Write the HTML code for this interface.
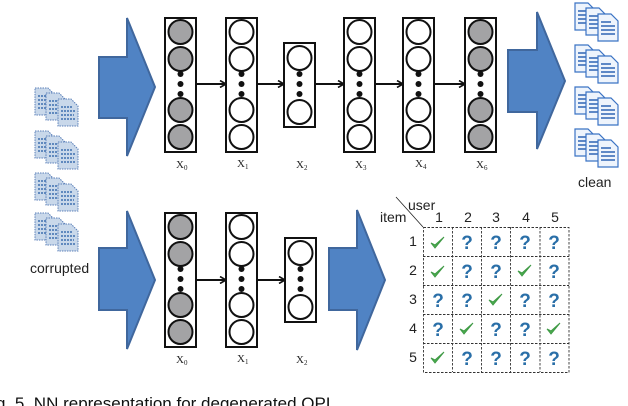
<!DOCTYPE html>
<html><head><meta charset="utf-8"><style>
html,body{margin:0;padding:0;background:#fff;width:628px;height:406px;overflow:hidden;position:relative}
svg{position:absolute;left:0;top:0}
.cap{position:absolute;left:-4px;top:395px;font:17px/17px "Liberation Sans",sans-serif;color:#111;white-space:nowrap}
</style></head><body>
<svg width="628" height="406" viewBox="0 0 628 406" xmlns="http://www.w3.org/2000/svg">
<defs>
<marker id="ah" markerWidth="8" markerHeight="8" refX="7" refY="4" orient="auto" markerUnits="userSpaceOnUse"><path d="M1,0.5 L7,4 L1,7.5" fill="none" stroke="#111" stroke-width="1.6"/></marker>
<g id="cpage"><path d="M0,0 h13 l7,7 v20 h-20z" fill="#c9d8ea" stroke="#5a7fb8" stroke-width="1" stroke-dasharray="1.5 1"/><path d="M3,8 h12 M3,12 h14 M3,16 h13 M3,20 h14" stroke="#3d6fb0" stroke-width="1.6" stroke-dasharray="2 1"/></g>
<g id="cg"><use href="#cpage" x="0" y="0"/><use href="#cpage" x="11" y="5"/><use href="#cpage" x="23" y="11"/></g>
<g id="page"><path d="M0,0 h13 l7,7 v20 h-20z" fill="#eef4fc" stroke="#3b73c4" stroke-width="1.2"/><path d="M3,8 h10 M3,12 h14 M3,16 h14 M3,20 h14" stroke="#2f64b3" stroke-width="1.6"/></g>
<g id="pg"><use href="#page" x="0" y="0"/><use href="#page" x="11" y="5"/><use href="#page" x="23" y="11"/></g>
<g id="L4"><rect x="0" y="0" width="31" height="134" fill="#fff" stroke="#111" stroke-width="2"/>
<circle cx="15.5" cy="14" r="12" stroke="#111" stroke-width="2"/><circle cx="15.5" cy="41" r="12" stroke="#111" stroke-width="2"/>
<circle cx="15.5" cy="92" r="12" stroke="#111" stroke-width="2"/><circle cx="15.5" cy="119" r="12" stroke="#111" stroke-width="2"/>
<circle cx="15.5" cy="56" r="3" fill="#111"/><circle cx="15.5" cy="66" r="3" fill="#111"/><circle cx="15.5" cy="76" r="3" fill="#111"/></g>
<g id="L2"><rect x="0" y="0" width="31" height="84" fill="#fff" stroke="#111" stroke-width="2"/>
<circle cx="15.5" cy="15" r="12" fill="#fff" stroke="#111" stroke-width="2"/><circle cx="15.5" cy="69" r="12" fill="#fff" stroke="#111" stroke-width="2"/>
<circle cx="15.5" cy="31" r="3" fill="#111"/><circle cx="15.5" cy="41" r="3" fill="#111"/><circle cx="15.5" cy="51" r="3" fill="#111"/></g>
<g id="ck"><path d="M-6,0 L-2,5 L7,-6 L-2,2 Z" fill="#4caf50" stroke="#3f9a45" stroke-width="1"/></g>
</defs>

<use href="#cg" x="35" y="88"/><use href="#cg" x="35" y="131"/><use href="#cg" x="35" y="173"/><use href="#cg" x="35" y="213"/>
<text x="30" y="273" font-family="Liberation Sans,sans-serif" font-size="14" fill="#222">corrupted</text>

<use href="#pg" x="575" y="3"/><use href="#pg" x="575" y="45"/><use href="#pg" x="575" y="87"/><use href="#pg" x="575" y="129"/>
<text x="578" y="187" font-family="Liberation Sans,sans-serif" font-size="14" fill="#222">clean</text>

<g fill="#5083c4" stroke="#40679d" stroke-width="2">
<path d="M99,57 H127 V18 L155,87 L127,156 V118 H99 Z"/>
<path d="M508,50 H537 V12 L565,81 L537,149 V112 H508 Z"/>
<path d="M99,248 H127 V211 L155,280 L127,349 V310 H99 Z"/>
<path d="M329,248 H357 V210 L385,280 L357,350 V310 H329 Z"/>
</g>

<g stroke="#111" stroke-width="2" marker-end="url(#ah)">
<line x1="196" y1="84" x2="226" y2="84"/><line x1="257" y1="84" x2="284" y2="84"/><line x1="315" y1="84" x2="344" y2="84"/>
<line x1="375" y1="84" x2="403" y2="84"/><line x1="434" y1="84" x2="465" y2="84"/>
<line x1="196" y1="280" x2="226" y2="280"/><line x1="257" y1="280" x2="285" y2="280"/>
</g>
<g fill="#a3a3a5"><use href="#L4" x="165" y="18"/><use href="#L4" x="465" y="18"/><use href="#L4" x="165" y="213"/></g>
<g fill="#fff"><use href="#L4" x="226" y="18"/><use href="#L4" x="344" y="18"/><use href="#L4" x="403" y="18"/><use href="#L4" x="226" y="213"/></g>
<use href="#L2" x="284" y="43"/><use href="#L2" x="285" y="238"/>

<g font-family="Liberation Serif,serif" font-size="11" fill="#222">
<text x="176" y="168">X<tspan font-size="7" dy="2">0</tspan></text>
<text x="237" y="167">X<tspan font-size="7" dy="2">1</tspan></text>
<text x="296" y="168">X<tspan font-size="7" dy="2">2</tspan></text>
<text x="355" y="168">X<tspan font-size="7" dy="2">3</tspan></text>
<text x="415" y="167">X<tspan font-size="7" dy="2">4</tspan></text>
<text x="476" y="168">X<tspan font-size="7" dy="2">6</tspan></text>
<text x="176" y="363">X<tspan font-size="7" dy="2">0</tspan></text>
<text x="237" y="362">X<tspan font-size="7" dy="2">1</tspan></text>
<text x="296" y="363">X<tspan font-size="7" dy="2">2</tspan></text>
</g>

<line x1="396" y1="197" x2="423" y2="227" stroke="#222" stroke-width="0.8"/>
<g font-family="Liberation Sans,sans-serif" font-size="14" fill="#222">
<text x="408" y="210">user</text><text x="380" y="222">item</text>
<g text-anchor="middle"><text x="439" y="222">1</text><text x="468" y="222">2</text><text x="496" y="222">3</text><text x="526" y="222">4</text><text x="555" y="222">5</text>
<text x="413" y="246">1</text><text x="413" y="275">2</text><text x="413" y="304">3</text><text x="413" y="333">4</text><text x="413" y="362">5</text></g>
</g>
<g stroke="#333" stroke-width="0.9" stroke-dasharray="2.5 1.5" fill="none">
<rect x="423.5" y="227.5" width="145.5" height="145"/>
<line x1="452.5" y1="227" x2="452.5" y2="372"/><line x1="481.5" y1="227" x2="481.5" y2="372"/><line x1="510.5" y1="227" x2="510.5" y2="372"/><line x1="540" y1="227" x2="540" y2="372"/>
<line x1="423" y1="256.5" x2="569" y2="256.5"/><line x1="423" y1="285.5" x2="569" y2="285.5"/><line x1="423" y1="314.5" x2="569" y2="314.5"/><line x1="423" y1="343.5" x2="569" y2="343.5"/>
</g>
<g font-family="Liberation Sans,sans-serif" font-weight="bold" font-size="19" fill="#2a6fa8" text-anchor="middle">
<text x="467" y="249">?</text><text x="496" y="249">?</text><text x="525" y="249">?</text><text x="554" y="249">?</text>
<text x="467" y="278">?</text><text x="496" y="278">?</text><text x="554" y="278">?</text>
<text x="438" y="307">?</text><text x="467" y="307">?</text><text x="525" y="307">?</text><text x="554" y="307">?</text>
<text x="438" y="336">?</text><text x="496" y="336">?</text><text x="525" y="336">?</text>
<text x="467" y="365">?</text><text x="496" y="365">?</text><text x="525" y="365">?</text><text x="554" y="365">?</text>
</g>
<use href="#ck" x="437" y="243"/><use href="#ck" x="437" y="272"/><use href="#ck" x="524" y="271"/>
<use href="#ck" x="495" y="300"/><use href="#ck" x="466" y="329"/><use href="#ck" x="553" y="329"/><use href="#ck" x="437" y="358"/>
</svg>
<div class="cap">g. 5. NN representation for degenerated QPI</div>
</body></html>
